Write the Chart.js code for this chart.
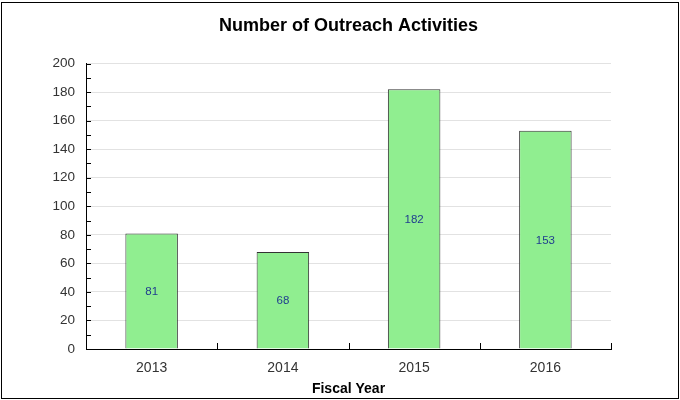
<!DOCTYPE html>
<html>
<head>
<meta charset="utf-8">
<script src="https://cdn.jsdelivr.net/npm/chart.js@4/dist/chart.umd.min.js"></script>
<style>
  html, body { margin: 0; padding: 0; background: #fff; }
  #wrap { position: relative; width: 680px; height: 400px; }
  #frame { position: absolute; left: 1px; top: 2px; width: 676px; height: 395px; border: 1px solid #000; pointer-events: none; }
</style>
</head>
<body>
<div id="wrap">
  <canvas id="c" width="680" height="400"></canvas>
  <div id="frame"></div>
</div>
<script>
const titleText = "Number of Outreach Activities";
const xAxisTitle = "Fiscal Year";
const categories = ["2013", "2014", "2015", "2016"];
const activities = [81, 68, 182, 153];
const yMin = 0, yMax = 200, yStep = 20, yMinorStep = 10;

const FONT = "'Liberation Sans', Arial, Helvetica, sans-serif";

const decorPlugin = {
  id: 'decor',
  afterDatasetsDraw(chart) {
    const ctx = chart.ctx;
    const xs = chart.scales.x, ys = chart.scales.y;
    const ca = chart.chartArea;
    ctx.save();
    ctx.strokeStyle = '#000';
    ctx.lineWidth = 1;
    // y ticks (inside)
    for (let v = yMin; v <= yMax; v += yMinorStep) {
      const py = Math.round(ys.getPixelForValue(v)) + 0.5;
      const len = 5;
      ctx.beginPath();
      ctx.moveTo(ca.left, py);
      ctx.lineTo(ca.left + len, py);
      ctx.stroke();
    }
    // x category boundary ticks (upward)
    for (let i = 0; i < categories.length; i++) {
      const px = Math.round(xs.getPixelForValue(i + 0.5)) + 0.5;
      ctx.beginPath();
      ctx.moveTo(px, ca.bottom);
      ctx.lineTo(px, ca.bottom - 6);
      ctx.stroke();
    }
    // value labels
    const meta = chart.getDatasetMeta(0);
    ctx.fillStyle = '#203d8f';
    ctx.font = '11.5px ' + FONT;
    ctx.textAlign = 'center';
    ctx.textBaseline = 'middle';
    meta.data.forEach((bar, i) => {
      const mid = (bar.y + bar.base) / 2 + 1;
      ctx.fillText(String(activities[i]), bar.x, mid);
    });
    ctx.restore();
  }
};

new Chart(document.getElementById('c'), {
  type: 'bar',
  data: {
    labels: categories,
    datasets: [{
      data: activities,
      backgroundColor: '#90ee90',
      borderColor: '#333333',
      borderWidth: 1,
      categoryPercentage: 1.0,
      barPercentage: 0.4
    }]
  },
  options: {
    responsive: false,
    animation: false,
    layout: { padding: { left: 0, right: 69, top: 0, bottom: 0 } },
    plugins: {
      legend: { display: false },
      tooltip: { enabled: false },
      title: {
        display: true,
        text: titleText,
        fullSize: false,
        color: '#000',
        font: { family: FONT, size: 18, weight: 'bold' },
        padding: { top: 15, bottom: 27 }
      }
    },
    scales: {
      x: {
        grid: { display: false, drawTicks: false },
        border: { display: true, color: '#000', width: 1 },
        ticks: { color: '#333', font: { family: FONT, size: 14 }, padding: 11 },
        title: {
          display: true,
          text: xAxisTitle,
          color: '#000',
          font: { family: FONT, size: 14, weight: 'bold' },
          padding: { top: 0, bottom: 2 }
        },
        afterFit(scale) { scale.height = 51; }
      },
      y: {
        min: yMin, max: yMax,
        ticks: { stepSize: yStep, color: '#333', font: { family: FONT, size: 13.5 }, padding: 11 },
        grid: { color: '#e2e2e2', drawTicks: false },
        border: { display: true, color: '#000', width: 1 },
        afterFit(scale) { scale.width = 86; }
      }
    }
  },
  plugins: [decorPlugin]
});
</script>
</body>
</html>
